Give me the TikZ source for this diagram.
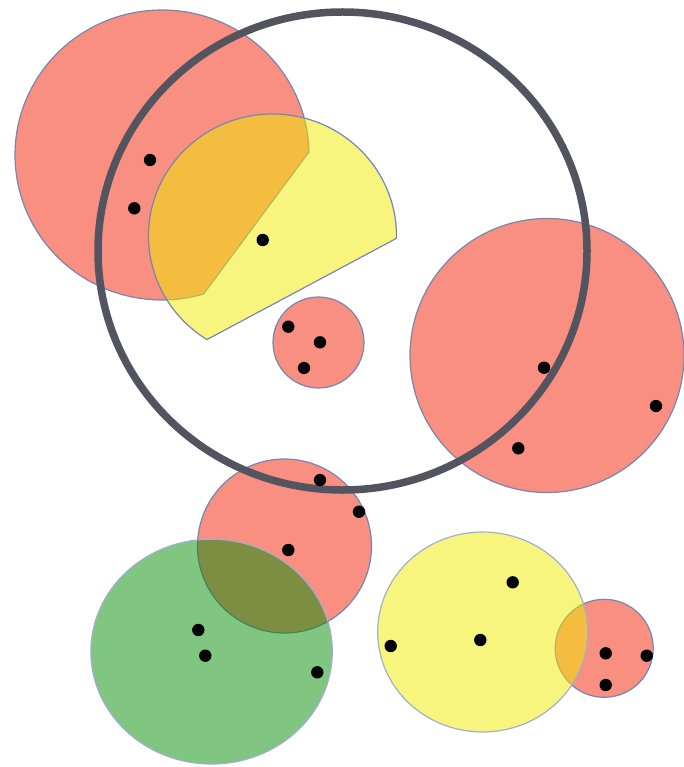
\documentclass[tikz,border=0pt]{standalone}
\definecolor{regionred}{RGB}{242,32,2}
\definecolor{regionyellow}{RGB}{241,235,0}
\definecolor{regiongreen}{RGB}{2,140,2}
\definecolor{edgeblue}{RGB}{118,134,176}
\definecolor{edgelight}{RGB}{158,176,204}
\definecolor{rangegray}{RGB}{84,84,96}
\begin{document}
\begin{tikzpicture}[x=1pt,y=-1pt,
		redarea/.style={fill=regionred,fill opacity=0.5,draw=edgeblue,line width=1.2pt},
		yellowarea/.style={fill=regionyellow,fill opacity=0.5,draw=edgelight,line width=1.2pt},
		greenarea/.style={fill=regiongreen,fill opacity=0.5,draw=edgelight,line width=1.2pt},
		querycircle/.style={draw=rangegray,line width=7.5pt},
		point/.style={fill=black}]
	\path[use as bounding box] (0,0) rectangle (684,767);

	% Draw red regions
	\draw[redarea] (162,155) ++(-1.2:147 and 145)
		arc[start angle=-1.2,end angle=-286.4,x radius=147,y radius=145] -- cycle;
	\draw[redarea] (318.5,342.5) circle[radius=45.5];
	\draw[redarea] (547,355.5) circle[radius=137];
	\draw[redarea] (284.5,546) circle[radius=87];
	\draw[redarea] (604.2,648.3) circle[radius=49];

	% Draw yellow and green regions
	\draw[yellowarea,draw=edgeblue] (272.5,236) ++(1.1:124 and 122)
		arc[start angle=1.1,end angle=-238.1,x radius=124,y radius=122] -- cycle;
	\draw[yellowarea] (482.7,632) ellipse[x radius=105,y radius=100];
	\draw[greenarea] (211.6,651.6) ellipse[x radius=120.7,y radius=112.4];

	% Draw the large circle
	\draw[querycircle] (342.5,251) ellipse[x radius=244.5,y radius=239];

	% Add the points
	\foreach \x/\y in {150/160,134.3/208.3,262.7/240,288.3/326.7,320/342.3,304/368,
		544/367.7,656/406,518.3/448.3,320/480,359/511.7,288.3/550,
		198.3/630,205.3/655.7,317.3/672.3,512.7/582.3,480.3/640,390.7/646,
		605.7/653.3,646.7/655.7,605.7/685}
		\fill[point] (\x,\y) circle[radius=6.2];
\end{tikzpicture}
\end{document}
